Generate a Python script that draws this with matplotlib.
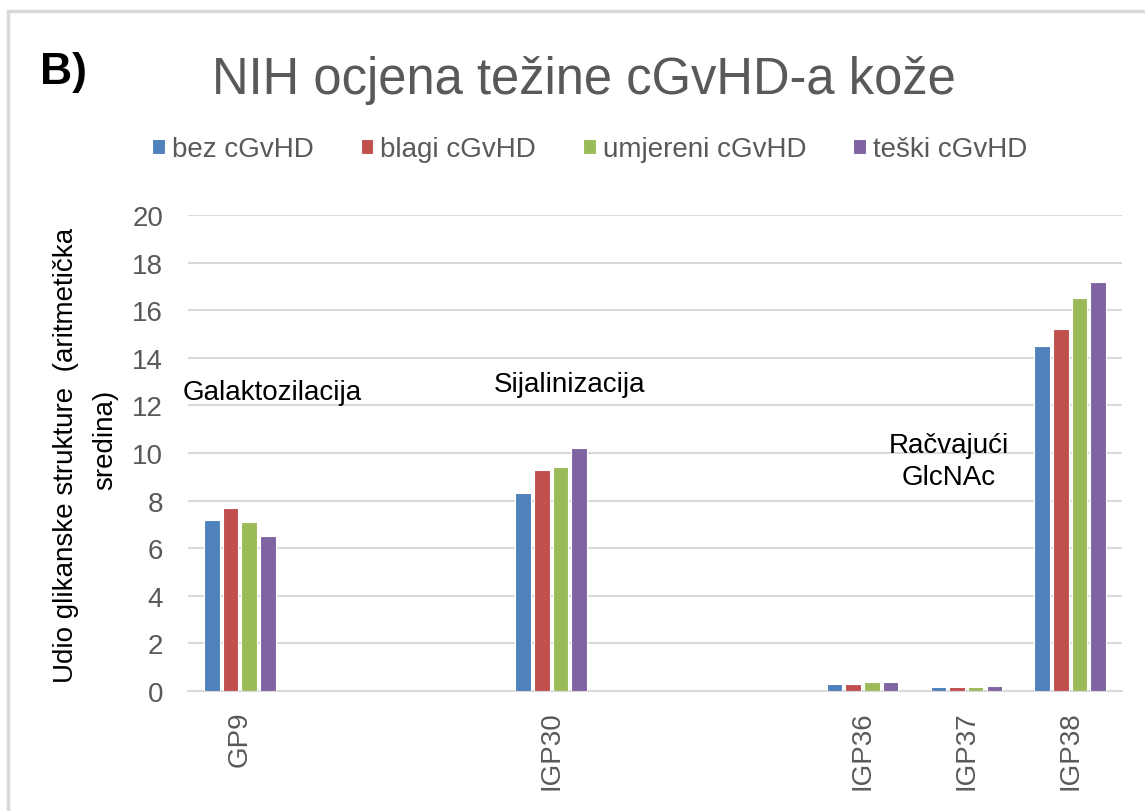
import numpy as np
import matplotlib.pyplot as plt
from matplotlib.patches import Rectangle

plt.rcParams['font.family'] = ['Liberation Sans', 'DejaVu Sans']

outfile = 'out.png'

# data
categories = ['GP9', '', '', 'IGP30', '', '', 'IGP36', 'IGP37', 'IGP38']
series = ['bez cGvHD', 'blagi cGvHD', 'umjereni cGvHD', 'teški cGvHD']
bez = [7.2, np.nan, np.nan, 8.3, np.nan, np.nan, 0.31, 0.15, 14.5]
blagi = [7.7, np.nan, np.nan, 9.3, np.nan, np.nan, 0.30, 0.15, 15.2]
umjereni = [7.1, np.nan, np.nan, 9.4, np.nan, np.nan, 0.38, 0.15, 16.5]
teski = [6.5, np.nan, np.nan, 10.2, np.nan, np.nan, 0.38, 0.22, 17.2]
colors = ['#4F81BD', '#C0504D', '#9BBB59', '#8064A2']

grey = '#595959'

fig = plt.figure(figsize=(11.45, 8.12), dpi=100, facecolor='w')
ax = fig.add_axes([0.1642, 0.1478, 0.8157, 0.5862])

x = np.arange(len(categories))
step = 0.18
handles = []
for i, (vals, c) in enumerate(zip([bez, blagi, umjereni, teski], colors)):
    b = ax.bar(x + (i - 1.5) * step, vals, width=0.15, color=c,
               edgecolor='white', linewidth=0.8, zorder=3)
    handles.append(b)

ax.set_xlim(-0.5, len(categories) - 0.5)
ax.set_ylim(0, 20)
ax.set_yticks(np.arange(0, 21, 2))
ax.set_xticks(x)
ax.set_xticklabels(categories, rotation=90)
ax.tick_params(axis='y', length=0, pad=18, labelsize=20, labelcolor=grey)
ax.tick_params(axis='x', length=0, pad=14, labelsize=20, labelcolor=grey)
ax.grid(axis='y', color='#d9d9d9', linewidth=1.5, zorder=0)
for s in ['top', 'right', 'left']:
    ax.spines[s].set_visible(False)
ax.spines['bottom'].set_color('#d9d9d9')
ax.spines['bottom'].set_linewidth(1.5)

# group annotations
ax.text(0.31, 12.27, 'Galaktozilacija', fontsize=20, ha='center', va='baseline')
ax.text(3.18, 12.6, 'Sijalinizacija', fontsize=20, ha='center', va='baseline')
ax.text(6.83, 10.04, 'Račvajući', fontsize=20, ha='center', va='baseline')
ax.text(6.83, 8.7, 'GlcNAc', fontsize=20, ha='center', va='baseline')

# y label (two lines placed separately)
fig.text(0.058, 1 - 455 / 812, 'Udio glikanske strukture  (aritmetička',
         rotation=90, fontsize=20, ha='center', va='center')
fig.text(0.092, 1 - 440 / 812, 'sredina)', rotation=90, fontsize=20,
         ha='center', va='center')

fig.text(0.51, 0.884, 'NIH ocjena težine cGvHD-a kože', fontsize=36.5,
         color=grey, ha='center', va='baseline')
fig.text(0.035, 0.897, 'B)', fontsize=32, fontweight='bold', va='baseline')

fig.legend(handles, series, loc='center', bbox_to_anchor=(0.515, 0.815),
           ncol=4, frameon=False, fontsize=20, labelcolor=grey,
           handlelength=0.45, handleheight=0.45, handletextpad=0.25,
           columnspacing=1.7)

# light frame around the panel
fig.patches.append(Rectangle((8 / 1145, -0.1), 1.2, 1 - 12 / 812 + 0.1,
                             transform=fig.transFigure, fill=False,
                             edgecolor='#d9d9d9', linewidth=2.5))

plt.savefig(outfile)
